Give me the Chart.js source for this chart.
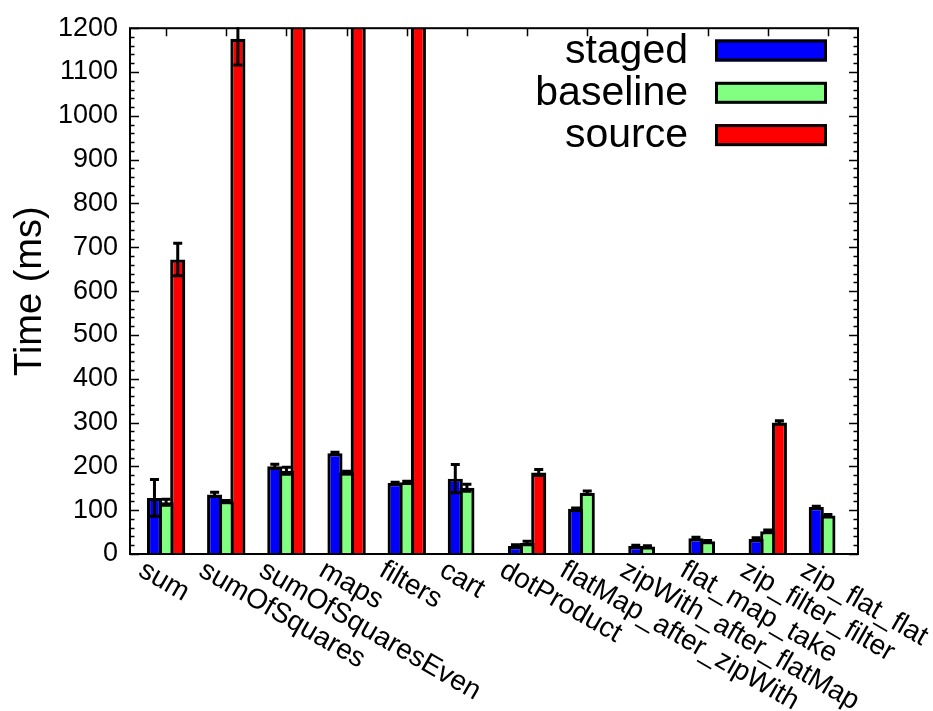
<!DOCTYPE html>
<html>
<head>
<meta charset="utf-8">
<script src="https://cdn.jsdelivr.net/npm/chart.js@4/dist/chart.umd.min.js"></script>
<style>
  html, body { margin: 0; padding: 0; background: #ffffff; }
  #wrap { width: 933px; height: 711px; }
</style>
</head>
<body>
<div id="wrap"><canvas id="c" width="933" height="711"></canvas></div>
<script>
// ---- data ----
const categories = ["sum", "sumOfSquares", "sumOfSquaresEven", "maps", "filters", "cart",
  "dotProduct", "flatMap_after_zipWith", "zipWith_after_flatMap", "flat_map_take",
  "zip_filter_filter", "zip_flat_flat"];
const seriesNames = ["staged", "baseline", "source"];
const staged      = [128, 136, 200, 230, 162, 172, 18, 103, 18, 36, 34, 107];
const stagedErr   = [42, 5, 5, 2, 2, 32, 3, 2, 2, 2, 3, 2];
const baseline    = [118, 120, 190, 186, 164, 151, 25, 140, 17, 29, 52, 88];
const baselineErr = [7, 2, 8, 3, 2, 8, 4, 4, 2, 2, 3, 2];
const source      = [672, 1176, 1400, 1400, 1400, null, 186, null, null, null, 300, null];
const sourceErr   = [37, 60, 0, 0, 0, null, 7, null, null, null, 4, null];
const yTickMin = 0, yTickMax = 1200, yTickStep = 100;
const colors = ["#0000ff", "#80ff80", "#ff0000"];

const values = [staged, baseline, source];
const errors = [stagedErr, baselineErr, sourceErr];

const FONT = "'Liberation Sans', Arial, sans-serif";

const datasets = values.map((arr, k) => ({
  label: seriesNames[k],
  data: categories.map((c, i) => ({ x: i, y: arr[i] })),
  backgroundColor: colors[k],
  borderColor: "#000000",
  borderWidth: 3.2,
  borderSkipped: "bottom",
  categoryPercentage: 0.58,
  barPercentage: 1.3,
  errs: errors[k]
}));

const framePlugin = {
  id: "frame",
  afterDatasetsDraw(chart) {
    const ctx = chart.ctx;
    const a = chart.chartArea;
    const ys = chart.scales.y;
    ctx.save();
    ctx.beginPath();
    ctx.rect(a.left, a.top - 1, a.right - a.left, a.bottom - a.top + 2);
    ctx.clip();
    ctx.strokeStyle = "#000";
    ctx.lineWidth = 3;
    chart.data.datasets.forEach((ds, k) => {
      const meta = chart.getDatasetMeta(k);
      meta.data.forEach((el, i) => {
        const v = ds.data[i].y;
        const e = ds.errs[i];
        if (v == null || e == null || e === 0) return;
        const yt = ys.getPixelForValue(v + e);
        const yb = ys.getPixelForValue(v - e);
        ctx.beginPath();
        ctx.moveTo(el.x, yt); ctx.lineTo(el.x, yb);
        ctx.moveTo(el.x - 4.5, yt); ctx.lineTo(el.x + 4.5, yt);
        ctx.moveTo(el.x - 4.5, yb); ctx.lineTo(el.x + 4.5, yb);
        ctx.stroke();
      });
    });
    ctx.restore();
  },
  afterDraw(chart) {
    const ctx = chart.ctx;
    const a = chart.chartArea;
    const ys = chart.scales.y;
    const xs = chart.scales.x;
    ctx.save();
    ctx.strokeStyle = "#000";
    ctx.lineWidth = 1.5;
    ctx.beginPath();
    for (let v = yTickMin; v <= yTickMax + 0.001; v += yTickStep / 5) {
      const y = Math.round(ys.getPixelForValue(v)) + 0.5;
      const major = Math.abs(v / yTickStep - Math.round(v / yTickStep)) < 1e-6;
      const len = major ? 9 : 4.5;
      ctx.moveTo(a.left, y); ctx.lineTo(a.left + len, y);
      ctx.moveTo(a.right, y); ctx.lineTo(a.right - len, y);
    }
    categories.forEach((c, i) => {
      const x = Math.round(xs.getPixelForValue(i)) + 0.5;
      ctx.moveTo(x, a.top); ctx.lineTo(x, a.top + 8);
    });
    ctx.stroke();
    ctx.lineWidth = 2;
    ctx.strokeRect(a.left, a.top, a.right - a.left, a.bottom - a.top);

    // x labels rotated
    ctx.fillStyle = "#000";
    ctx.font = "28px " + FONT;
    ctx.textAlign = "left";
    ctx.textBaseline = "alphabetic";
    categories.forEach((c, i) => {
      const x = xs.getPixelForValue(i) - 29;
      const y = a.bottom + 21;
      ctx.save();
      ctx.translate(x, y);
      ctx.rotate(30 * Math.PI / 180);
      ctx.fillText(c, 0, 0);
      ctx.restore();
    });

    // y title
    ctx.save();
    ctx.font = "38px " + FONT;
    ctx.textAlign = "center";
    ctx.textBaseline = "middle";
    ctx.translate(31, (a.top + a.bottom) / 2);
    ctx.rotate(-Math.PI / 2);
    ctx.fillText("Time (ms)", 0, 0);
    ctx.restore();

    // legend
    ctx.font = "41px " + FONT;
    ctx.textAlign = "right";
    ctx.textBaseline = "middle";
    seriesNames.forEach((n, k) => {
      const cy = 50.5 + 42.3 * k;
      ctx.fillStyle = "#000";
      ctx.fillText(n, 688, cy + 1);
      ctx.fillStyle = colors[k];
      ctx.fillRect(715, cy - 11, 112, 22);
      ctx.lineWidth = 3;
      ctx.strokeStyle = "#000";
      ctx.strokeRect(716.5, cy - 9.5, 109, 19);
    });
    ctx.restore();
  }
};

new Chart(document.getElementById("c"), {
  type: "bar",
  data: { datasets },
  options: {
    responsive: false,
    animation: false,
    layout: { padding: { left: 0, top: 20, right: 75, bottom: 157 } },
    plugins: { legend: { display: false }, tooltip: { enabled: false } },
    scales: {
      x: {
        type: "linear",
        offset: false,
        min: -0.6,
        max: 11.5,
        display: false,
        afterBuildTicks(scale) {
          scale.ticks = categories.map((c, i) => ({ value: i }));
        }
      },
      y: {
        min: yTickMin,
        max: yTickMax,
        grid: { display: false, drawTicks: false },
        border: { display: false },
        ticks: {
          stepSize: yTickStep,
          color: "#000",
          padding: 12,
          font: { family: FONT, size: 27 },
          callback: (v) => String(v)
        },
        afterFit(scale) { scale.width = 130; }
      }
    }
  },
  plugins: [framePlugin]
});
</script>
</body>
</html>
